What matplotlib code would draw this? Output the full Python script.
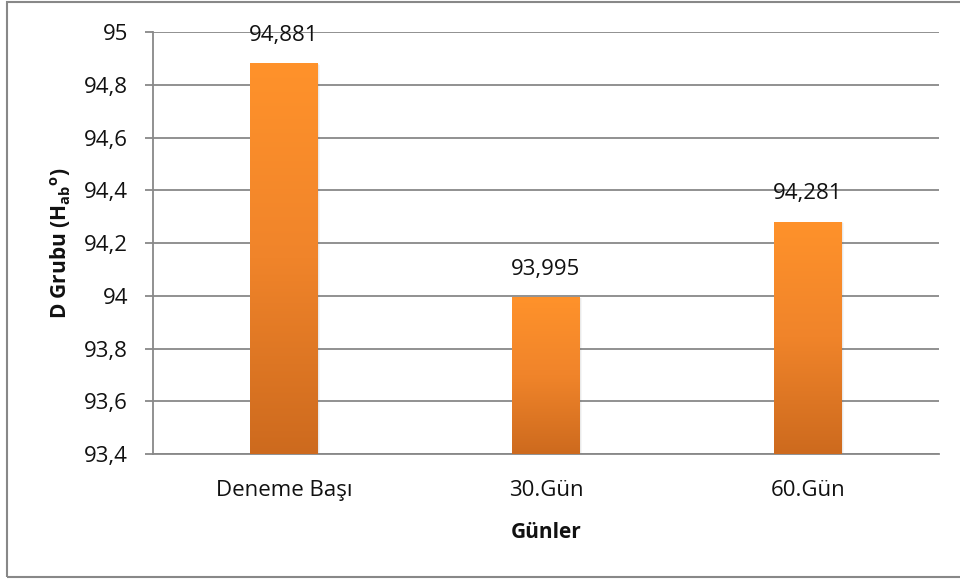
import numpy as np
import matplotlib
matplotlib.use('Agg')
from matplotlib import pyplot as plt
from matplotlib.ticker import FuncFormatter, MultipleLocator
from matplotlib.colors import LinearSegmentedColormap
from matplotlib.patches import Rectangle

plt.rcParams['font.family'] = ['Open Sans', 'DejaVu Sans']
plt.rcParams['mathtext.fontset'] = 'custom'
plt.rcParams['mathtext.bf'] = 'Open Sans:bold'
plt.rcParams['mathtext.rm'] = 'Open Sans'

gunler = ['Deneme Başı', '30.Gün', '60.Gün']
degerler = [94.881, 93.995, 94.281]
etiketler = ['94,881', '93,995', '94,281']

ymin, ymax = 93.4, 95.0
gri = '#888888'
fs = 16

fig = plt.figure(figsize=(9.6, 5.79), dpi=100)
ax = fig.add_axes([153/960, 1 - 454/579, (939 - 153)/960, (454 - 32)/579])

# border around the whole chart
fig.patches.append(Rectangle((7/960, 2/579), 1.0, 575/579, transform=fig.transFigure,
                             fill=False, edgecolor=gri, lw=1.5, zorder=0))

x = np.arange(len(gunler))
bars = ax.bar(x, [v - ymin for v in degerler], bottom=ymin, width=0.256,
              color='none', edgecolor='none', zorder=3)

# orange gradient fill, light at the top and darker at the bottom
cmap = LinearSegmentedColormap.from_list('turuncu', ['#CD6A1E', '#F0842A', '#FF922B'])
grad = np.linspace(0, 1, 256).reshape(-1, 1)
for b in bars:
    x0, y0 = b.get_x(), b.get_y()
    w, h = b.get_width(), b.get_height()
    # soft shadow to the right and below
    for k, a in ((3, 0.05), (2, 0.08), (1, 0.12)):
        sh = Rectangle((x0 + 0.0035 * k, y0 - 0.0015 * k), w, h, facecolor='#555555',
                       edgecolor='none', alpha=a, zorder=2)
        ax.add_patch(sh)
    im = ax.imshow(grad, extent=[x0, x0 + w, y0, y0 + h], origin='lower',
                   cmap=cmap, aspect='auto', zorder=3)
    im.set_clip_path(b)

for xi, v, t in zip(x, degerler, etiketler):
    ax.annotate(t, (xi, v), xytext=(0, 20), textcoords='offset points',
                ha='center', va='center', fontsize=fs, color='#111111')

ax.set_xlim(-0.5, 2.5)
ax.set_ylim(ymin, ymax)
ax.yaxis.set_major_locator(MultipleLocator(0.2))
ax.yaxis.set_major_formatter(FuncFormatter(lambda v, p: ('%g' % round(v, 2)).replace('.', ',')))
ax.set_xticks(x)
ax.set_xticklabels(gunler)

ax.grid(axis='y', color=gri, lw=1.3, zorder=0)
ax.set_axisbelow(True)
for s in ['top', 'right']:
    ax.spines[s].set_visible(False)
for s in ['left', 'bottom']:
    ax.spines[s].set_color(gri)
    ax.spines[s].set_linewidth(1.3)

ax.tick_params(axis='y', length=6, width=1.3, color=gri, pad=12, labelsize=fs, labelcolor='#111111')
ax.tick_params(axis='x', length=0, pad=19, labelsize=fs, labelcolor='#111111')

ax.set_ylabel(r'D Grubu (H$_{\mathbf{ab}}$$^{\mathbf{o}}$)', fontsize=fs - 1, fontweight='bold',
              color='#111111', labelpad=8)
ax.set_xlabel('Günler', fontsize=fs - 1, fontweight='bold', color='#111111', labelpad=15)

fig.savefig('out.png', dpi=100)
